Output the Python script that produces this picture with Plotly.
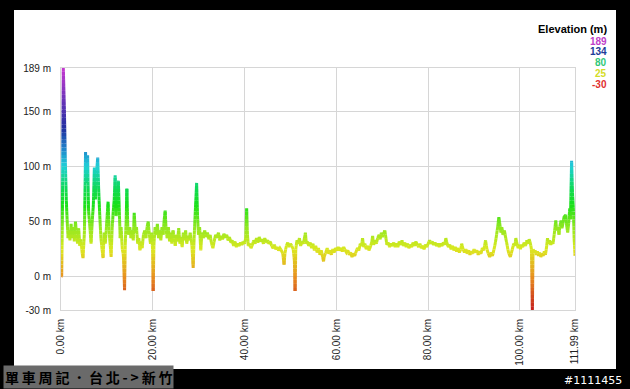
import numpy as np
import plotly.graph_objects as go

# ---------------- data ----------------
distance_km = [
    0.00, 0.15, 0.30, 0.50, 0.75, 0.95, 1.15, 1.35, 1.55, 1.75, 1.95,
    2.2, 2.45, 2.7, 2.9, 3.15, 3.4, 3.6, 3.85, 4.1, 4.35, 4.6, 4.8,
    5.1, 5.35, 5.55, 5.8, 6.0, 6.3, 6.55, 6.8,
    7.05, 7.27, 7.5, 7.75, 8.0, 8.2, 8.45, 8.7,
    8.95, 9.17, 9.4, 9.65, 9.9, 10.26, 10.5, 10.7, 10.92, 11.15, 11.4,
    11.6, 11.8, 12.0, 12.2, 12.5, 12.7, 12.9, 13.1,
    13.35, 13.6, 13.85, 14.0, 14.2, 14.35, 14.55, 14.75,
    15.0, 15.25, 15.5, 15.75, 15.95, 16.2, 16.45, 16.7,
    16.95, 17.2, 17.45, 17.7, 17.95, 18.25, 18.5, 18.75, 19.0, 19.25,
    19.5, 19.75, 19.95, 20.08, 20.25,
    20.5, 20.75, 21.0, 21.25, 21.5, 21.75, 22.0, 22.25, 22.45, 22.7, 22.9, 23.15, 23.4,
    23.65, 23.9, 24.15, 24.4, 24.65, 24.9, 25.15, 25.4, 25.65, 25.9, 26.15, 26.4,
    26.65, 26.9, 27.15, 27.4, 27.65, 27.9, 28.15,
    28.5, 28.8, 29.0, 29.25, 29.55, 29.75, 29.95,
    30.2, 30.45, 30.7, 31.0, 31.3, 31.6, 31.9, 32.2, 32.5, 32.8, 33.1, 33.4,
    33.7, 34.0, 34.3, 34.6, 34.9, 35.2, 35.5, 35.8, 36.1, 36.4, 36.7,
    37.0, 37.3, 37.6, 37.9, 38.2, 38.5, 38.8, 39.1, 39.4, 39.7, 40.0,
    40.25, 40.45, 40.6, 40.8, 41.1, 41.4, 41.7,
    42.0, 42.3, 42.6, 42.9, 43.2, 43.5, 43.8, 44.1, 44.4, 44.7, 45.0, 45.3, 45.6,
    45.9, 46.2, 46.5, 46.8, 47.1, 47.4, 47.7, 48.0,
    48.3, 48.6, 48.8, 49.1, 49.4, 49.7, 50.0, 50.3,
    50.6, 50.85, 51.0, 51.15,
    51.4, 51.7, 51.95, 52.2, 52.5, 52.8, 53.0, 53.25, 53.45,
    53.7, 54.0, 54.3, 54.6, 54.9, 55.2, 55.5, 55.8, 56.1, 56.4, 56.7, 57.0, 57.2, 57.4,
    57.7, 58.0, 58.3, 58.6, 58.9, 59.2, 59.5, 59.8,
    60.1, 60.4, 60.7, 61.0, 61.3, 61.6, 61.9, 62.2,
    62.5, 62.8, 63.1, 63.4, 63.7, 64.0, 64.3,
    64.6, 64.9, 65.2, 65.5, 65.7, 65.95,
    66.2, 66.5, 66.8, 67.1, 67.4, 67.7, 67.9, 68.1,
    68.4, 68.7, 69.0, 69.3, 69.55, 69.8, 70.05, 70.3, 70.55, 70.8,
    71.0, 71.3, 71.6, 71.9, 72.2, 72.5, 72.8,
    73.1, 73.4, 73.7, 74.0, 74.3, 74.6, 74.9, 75.2, 75.5, 75.8, 76.1, 76.4,
    76.7, 77.0, 77.3, 77.6, 77.9, 78.2, 78.5, 78.8, 79.1, 79.4, 79.7, 80.0,
    80.3, 80.6, 80.9, 81.2, 81.5, 81.8, 82.1, 82.4, 82.7, 83.0, 83.3, 83.6, 83.85, 84.1,
    84.4, 84.7, 85.0, 85.3, 85.6, 85.9, 86.2, 86.5, 86.8, 87.1, 87.3,
    87.6, 87.9, 88.2, 88.5, 88.8, 89.1, 89.4, 89.7, 90.0, 90.3, 90.6, 90.9,
    91.2, 91.5, 91.8, 92.1, 92.5, 92.8,
    93.1, 93.4, 93.7, 94.0, 94.3,
    94.6, 94.9, 95.15, 95.4, 95.6, 95.85, 96.05, 96.3,
    96.6, 96.9, 97.15, 97.4, 97.65, 97.9, 98.15, 98.4,
    98.65, 98.9, 99.1, 99.35, 99.6, 99.85, 100.1, 100.35,
    100.6, 100.9, 101.2, 101.5, 101.75,
    102.0, 102.3, 102.5, 102.7, 102.85, 103.05,
    103.3, 103.55, 103.8, 104.05, 104.3, 104.55, 104.8, 105.05, 105.3, 105.55,
    105.8, 106.0, 106.2, 106.45, 106.7, 106.95, 107.2, 107.45,
    107.8, 108.0, 108.3, 108.5, 108.7, 108.95, 109.15, 109.35,
    109.6, 109.95, 110.15, 110.4, 110.6, 110.85, 111.0,
    111.25, 111.45, 111.65, 111.8, 111.99,
]

elevation_m = [
    0, 1, 54, 189, 150, 104, 70, 50, 35, 42, 33,
    48, 35, 45, 32, 50, 38, 30, 44, 28, 34, 22, 17,
    40, 113, 85, 110, 60, 45, 30, 50,
    65, 99, 70, 95, 108, 80, 55, 35,
    25, 17, 40, 30, 45, 68, 40, 30, 18, 45, 60,
    70, 92, 55, 70, 87, 60, 35, 45,
    25, 20, -12, 30, 50, 80, 45, 38,
    45, 35, 42, 33, 58, 40, 45, 30,
    35, 24, 32, 26, 38, 42, 35, 45, 50, 38,
    30, 40, 25, -13, 30,
    45, 38, 48, 35, 42, 33, 45, 38, 50, 60, 42, 35, 45,
    32, 40, 30, 42, 35, 28, 38, 32, 44, 30, 36, 27,
    40, 33, 42, 30, 37, 33, 40,
    30, 8, 35, 58, 85, 55, 38,
    45, 24, 40, 35, 42, 36, 40, 34, 38, 30, 26, 33,
    38, 35, 40, 33, 37, 34, 39, 35, 38, 33, 36,
    31, 33, 28, 32, 27, 30, 28, 31, 29, 32, 30,
    35, 62, 40, 28, 30, 26, 29,
    33, 30, 35, 31, 36, 32, 34, 30, 35, 31, 33, 30, 32,
    28, 26, 29, 25, 27, 24, 26, 24,
    22, 11, 22, 28, 31, 27, 30, 28,
    25, 15, -13, 25,
    33, 30, 35, 28, 32, 30, 34, 40, 30,
    32, 28, 31, 26, 30, 24, 28, 22, 26, 20, 24, 18, 14, 20,
    22, 26, 21, 24, 20, 25, 22, 26,
    24, 27, 24, 26, 23, 27, 24, 22,
    24, 20, 22, 18, 21, 19, 23,
    26, 24, 30, 28, 35, 27,
    30, 25, 28, 24, 27, 31, 37, 29,
    33, 30, 35, 38, 34, 40, 36, 39, 42, 35,
    29, 31, 27, 30, 28, 31, 27,
    30, 27, 32, 29, 33, 28, 31, 27, 30, 26, 29, 27,
    31, 28, 32, 29, 27, 30, 26, 28, 25, 29, 27, 30,
    33, 30, 32, 29, 31, 28, 30, 27, 30, 28, 31, 29, 35, 30,
    27, 29, 25, 28, 24, 27, 23, 26, 22, 25, 30,
    25, 22, 25, 21, 24, 20, 23, 21, 25, 22, 24, 20,
    23, 21, 26, 24, 33, 25,
    21, 18, 22, 19, 24,
    30, 38, 45, 54, 48, 40, 45, 38,
    42, 35, 30, 24, 20, 18, 22, 26,
    30, 28, 35, 30, 26, 29, 25, 29,
    27, 31, 28, 33, 30,
    34, 30, 25, -31, 25, 22,
    24, 20, 23, 19, 22, 18, 21, 19, 23, 20,
    27, 35, 30, 33, 29, 32, 30, 38,
    51, 42, 45, 38, 46, 51, 44, 48,
    54, 56, 47, 40, 48, 62, 52,
    105, 75, 60, 35, 19,
]

x_tick_values = [0, 20, 40, 60, 80, 100, 111.99]
x_tick_labels = ["0.00 km", "20.00 km", "40.00 km", "60.00 km", "80.00 km", "100.00 km", "111.99 km"]
y_tick_values = [-30, 0, 50, 100, 150, 189]
y_tick_labels = ["-30 m", "0 m", "50 m", "100 m", "150 m", "189 m"]

legend_values = [189, 134, 80, 25, -30]
legend_colors = ["#c040c8", "#203c98", "#30c878", "#d4dc28", "#e03030"]

title_text = "單車周記．台北->新竹"
id_text = "#1111455"

# ---------------- colour gradient (style) ----------------
Y_MIN, Y_MAX = -30, 189
grad_stops = [
    (-30, "#c41c1c"), (0, "#e89020"), (25, "#dce820"), (45, "#90e820"),
    (65, "#18e018"), (82, "#10d860"), (100, "#20d0d8"), (115, "#2088cc"),
    (134, "#2030a0"), (160, "#6a34b8"), (189, "#c838d0"),
]


def hex2rgb(h):
    h = h.lstrip("#")
    return np.array([int(h[i:i + 2], 16) for i in (0, 2, 4)], dtype=float)


stop_vals = np.array([s[0] for s in grad_stops], dtype=float)
stop_rgb = np.array([hex2rgb(s[1]) for s in grad_stops])


def color_at(v):
    rgb = [np.interp(v, stop_vals, stop_rgb[:, k]) for k in range(3)]
    return "rgb(%d,%d,%d)" % tuple(int(round(c)) for c in rgb)


NB = 64
levels = np.linspace(Y_MIN, Y_MAX, NB + 1)
paths = {}  # bin -> (xs, ys)
last_bin = None
for i in range(len(distance_km) - 1):
    x0, y0 = distance_km[i], elevation_m[i]
    x1, y1 = distance_km[i + 1], elevation_m[i + 1]
    lo, hi = min(y0, y1), max(y0, y1)
    ts = [0.0, 1.0]
    if y1 != y0:
        ts += [(l - y0) / (y1 - y0) for l in levels if lo < l < hi]
    ts = sorted(ts)
    for a, b in zip(ts[:-1], ts[1:]):
        xa, ya = x0 + a * (x1 - x0), y0 + a * (y1 - y0)
        xb, yb = x0 + b * (x1 - x0), y0 + b * (y1 - y0)
        mid = (ya + yb) / 2
        bi = int(np.clip((mid - Y_MIN) / (Y_MAX - Y_MIN) * NB, 0, NB - 1))
        xs, ys = paths.setdefault(bi, ([], []))
        if last_bin == bi and xs and xs[-1] == xa and ys[-1] == ya:
            xs.append(xb)
            ys.append(yb)
        else:
            if xs:
                xs.append(None)
                ys.append(None)
            xs += [xa, xb]
            ys += [ya, yb]
        last_bin = bi

fig = go.Figure()
for bi in sorted(paths):
    xs, ys = paths[bi]
    centre = (levels[bi] + levels[bi + 1]) / 2
    fig.add_trace(go.Scatter(
        x=xs, y=ys, mode="lines",
        line=dict(color=color_at(centre), width=3),
        hoverinfo="skip", showlegend=False,
    ))

# ---------------- layout ----------------
W, H = 630, 389
L, R, T, B = 61, 55, 68, 79
pw, ph = W - L - R, H - T - B


def px2x(px):
    return (px - L) / pw


def px2y(py):
    return (H - B - py) / ph


FONT = "Liberation Sans, Arial, sans-serif"
grid = "#d6d6d6"

fig.update_layout(
    width=W, height=H,
    margin=dict(l=L, r=R, t=T, b=B, pad=0),
    paper_bgcolor="black",
    plot_bgcolor="white",
    showlegend=False,
    font=dict(family=FONT, size=10, color="#222222"),
    xaxis=dict(
        range=[0, 111.99], tickmode="array",
        tickvals=x_tick_values, ticktext=x_tick_labels,
        tickangle=-90, showgrid=True, gridcolor=grid, gridwidth=1,
        zeroline=False, showline=True, linecolor=grid, mirror=True,
        ticks="", ticklabelstandoff=4,
        tickfont=dict(family=FONT, size=10, color="#222222"),
    ),
    yaxis=dict(
        range=[Y_MIN, Y_MAX], tickmode="array",
        tickvals=y_tick_values, ticktext=y_tick_labels,
        showgrid=True, gridcolor=grid, gridwidth=1,
        zeroline=False, showline=True, linecolor=grid, mirror=True,
        ticks="", ticklabelstandoff=7,
        tickfont=dict(family=FONT, size=10, color="#222222"),
    ),
)

# white card inside the black frame
fig.add_shape(type="rect", xref="paper", yref="paper", layer="below",
              x0=px2x(14), x1=px2x(616), y0=px2y(369), y1=px2y(10),
              fillcolor="white", line=dict(width=0))

# elevation legend
fig.add_annotation(xref="paper", yref="paper", x=px2x(609), y=px2y(29),
                   xanchor="right", yanchor="middle", showarrow=False,
                   text="<b>Elevation (m)</b>",
                   font=dict(family=FONT, size=11, color="black"))
for i, (v, c) in enumerate(zip(legend_values, legend_colors)):
    fig.add_annotation(xref="paper", yref="paper", x=px2x(609), y=px2y(41 + 10.8 * i),
                       xanchor="right", yanchor="middle", showarrow=False,
                       text="<b>%d</b>" % v,
                       font=dict(family=FONT, size=10, color=c))

# bottom captions (glyphs spaced out like the original bitmap caption)
spaced_title = "\u2009".join(list(title_text))
fig.add_annotation(xref="paper", yref="paper", x=px2x(3), y=px2y(377),
                   xanchor="left", yanchor="middle", showarrow=False,
                   text="<b>" + spaced_title + "</b>", bgcolor="#6a6a6a", borderpad=1,
                   font=dict(family="Noto Sans CJK TC, sans-serif", size=14, color="black"))
fig.add_annotation(xref="paper", yref="paper", x=px2x(624), y=px2y(380),
                   xanchor="right", yanchor="middle", showarrow=False,
                   text=id_text,
                   font=dict(family="DejaVu Sans, sans-serif", size=11, color="white"))

fig.write_html("out.html")
